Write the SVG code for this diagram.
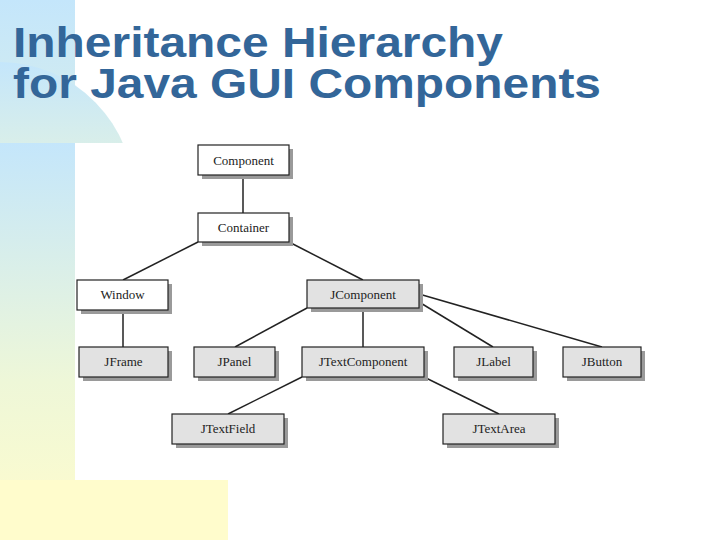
<svg xmlns="http://www.w3.org/2000/svg" width="720" height="540" viewBox="0 0 720 540">
<defs>
<linearGradient id="bg" x1="0" y1="0" x2="0" y2="1">
<stop offset="0" stop-color="#c4e6fb"/><stop offset="0.6" stop-color="#eef7d8"/><stop offset="1" stop-color="#fffccc"/>
</linearGradient>
<style>
.n rect.b{stroke:#222;stroke-width:1.2}
.w{fill:#fff}.g{fill:#e2e2e2}
.s{fill:#9a9a9a}
.n text{font-family:"Liberation Serif",serif;font-size:13px;fill:#222;text-anchor:middle}
#edges line{stroke:#222;stroke-width:1.5}
.t{font-family:"Liberation Sans",Arial,sans-serif;font-weight:bold;font-size:43px;fill:#336699}
</style>
</defs>
<rect width="720" height="540" fill="#fff"/>
<rect x="0" y="0" width="75" height="540" fill="url(#bg)"/>
<ellipse cx="0" cy="200" rx="135" ry="138" fill="url(#bg)"/>
<rect x="0" y="143" width="75" height="397" fill="url(#bg)"/>
<rect x="0" y="480" width="228" height="60" fill="#fffccc"/>
<rect x="75" y="143" width="580" height="337" fill="#fff"/>
<text class="t" x="13" y="57" textLength="490" lengthAdjust="spacingAndGlyphs">Inheritance Hierarchy</text>
<text class="t" x="13" y="98" textLength="588" lengthAdjust="spacingAndGlyphs">for Java GUI Components</text>
<g id="edges">
<line x1="243" y1="175" x2="243" y2="213"/>
<line x1="198" y1="242" x2="123" y2="280"/>
<line x1="289" y1="242" x2="363" y2="280"/>
<line x1="123" y1="310" x2="123" y2="347"/>
<line x1="307" y1="308" x2="235" y2="347"/>
<line x1="363" y1="308" x2="363" y2="347"/>
<line x1="419" y1="302" x2="493" y2="347"/>
<line x1="419" y1="294" x2="602" y2="347"/>
<line x1="302" y1="377" x2="228" y2="414"/>
<line x1="424" y1="377" x2="499" y2="414"/>
</g>
<g id="component" class="n"><rect class="s" x="202" y="149" width="91" height="30"/><rect class="b w" x="198" y="145" width="91" height="30"/><text x="243.5" y="165">Component</text></g>
<g id="container" class="n"><rect class="s" x="202" y="217" width="91" height="29"/><rect class="b w" x="198" y="213" width="91" height="29"/><text x="243.5" y="232">Container</text></g>
<g id="window" class="n"><rect class="s" x="81" y="284" width="91" height="30"/><rect class="b w" x="77" y="280" width="91" height="30"/><text x="122.5" y="299">Window</text></g>
<g id="jcomponent" class="n"><rect class="s" x="311" y="284" width="112" height="28"/><rect class="b g" x="307" y="280" width="112" height="28"/><text x="363" y="299">JComponent</text></g>
<g id="jframe" class="n"><rect class="s" x="83" y="351" width="89" height="30"/><rect class="b g" x="79" y="347" width="89" height="30"/><text x="123.5" y="366">JFrame</text></g>
<g id="jpanel" class="n"><rect class="s" x="198" y="351" width="81" height="30"/><rect class="b g" x="194" y="347" width="81" height="30"/><text x="234.5" y="366">JPanel</text></g>
<g id="jtextcomponent" class="n"><rect class="s" x="306" y="351" width="122" height="30"/><rect class="b g" x="302" y="347" width="122" height="30"/><text x="363" y="366">JTextComponent</text></g>
<g id="jlabel" class="n"><rect class="s" x="458" y="351" width="79" height="30"/><rect class="b g" x="454" y="347" width="79" height="30"/><text x="493.5" y="366">JLabel</text></g>
<g id="jbutton" class="n"><rect class="s" x="567" y="351" width="78" height="30"/><rect class="b g" x="563" y="347" width="78" height="30"/><text x="602" y="366">JButton</text></g>
<g id="jtextfield" class="n"><rect class="s" x="176" y="418" width="112" height="30"/><rect class="b g" x="172" y="414" width="112" height="30"/><text x="228" y="433">JTextField</text></g>
<g id="jtextarea" class="n"><rect class="s" x="447" y="418" width="112" height="30"/><rect class="b g" x="443" y="414" width="112" height="30"/><text x="499" y="433">JTextArea</text></g>
</svg>
